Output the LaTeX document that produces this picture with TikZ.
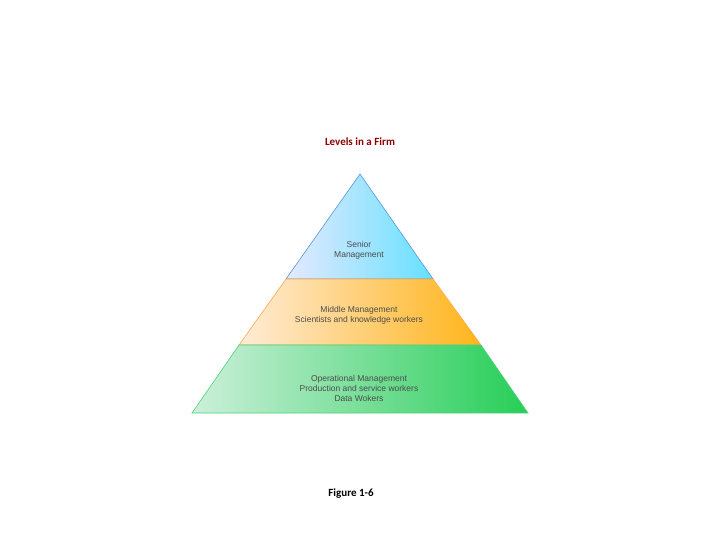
\documentclass[tikz,border=0pt]{standalone}
\usepackage{fontspec}
\setmainfont{Carlito}
\newfontfamily\arialf{Liberation Sans}
\begin{document}
\begin{tikzpicture}[x=1pt,y=-1pt,
  band/.style={line width=0.6pt},
  lbl/.style={font=\arialf\fontsize{8.5}{10}\selectfont, text=black!70, align=center}]
\useasboundingbox (0,0) rectangle (720,540);
\coordinate (apex) at (360,174);
\coordinate (l1) at (286,279); \coordinate (r1) at (433,279);
\coordinate (l2) at (239,345); \coordinate (r2) at (481,345);
\coordinate (l3) at (192,413); \coordinate (r3) at (528,413);
\path[band, draw=cyan!60!blue!70, left color=cyan!15!blue!10!white, right color=cyan!80!blue!60]
  (apex) -- (r1) -- (l1) -- cycle;
\path[band, draw=orange!70, left color=orange!15!white, right color=orange!65!yellow!90]
  (l1) -- (r1) -- (r2) -- (l2) -- cycle;
\path[band, draw=green!50!teal!70, left color=green!40!teal!20!white, right color=green!55!teal!85]
  (l2) -- (r2) -- (r3) -- (l3) -- cycle;
\node[font=\bfseries\fontsize{11}{13}\selectfont, text=red!55!black] (title) at (360,142) {Levels in a Firm};
\node[lbl] (senior) at (359,250) {Senior\\Management};
\node[lbl] (middle) at (359,315) {Middle Management\\Scientists and knowledge workers};
\node[lbl] (oper) at (359,388) {Operational Management\\Production and service workers\\Data Wokers};
\node[font=\bfseries\fontsize{11}{13}\selectfont] (fig) at (351,494) {Figure 1-6};
\end{tikzpicture}
\end{document}
